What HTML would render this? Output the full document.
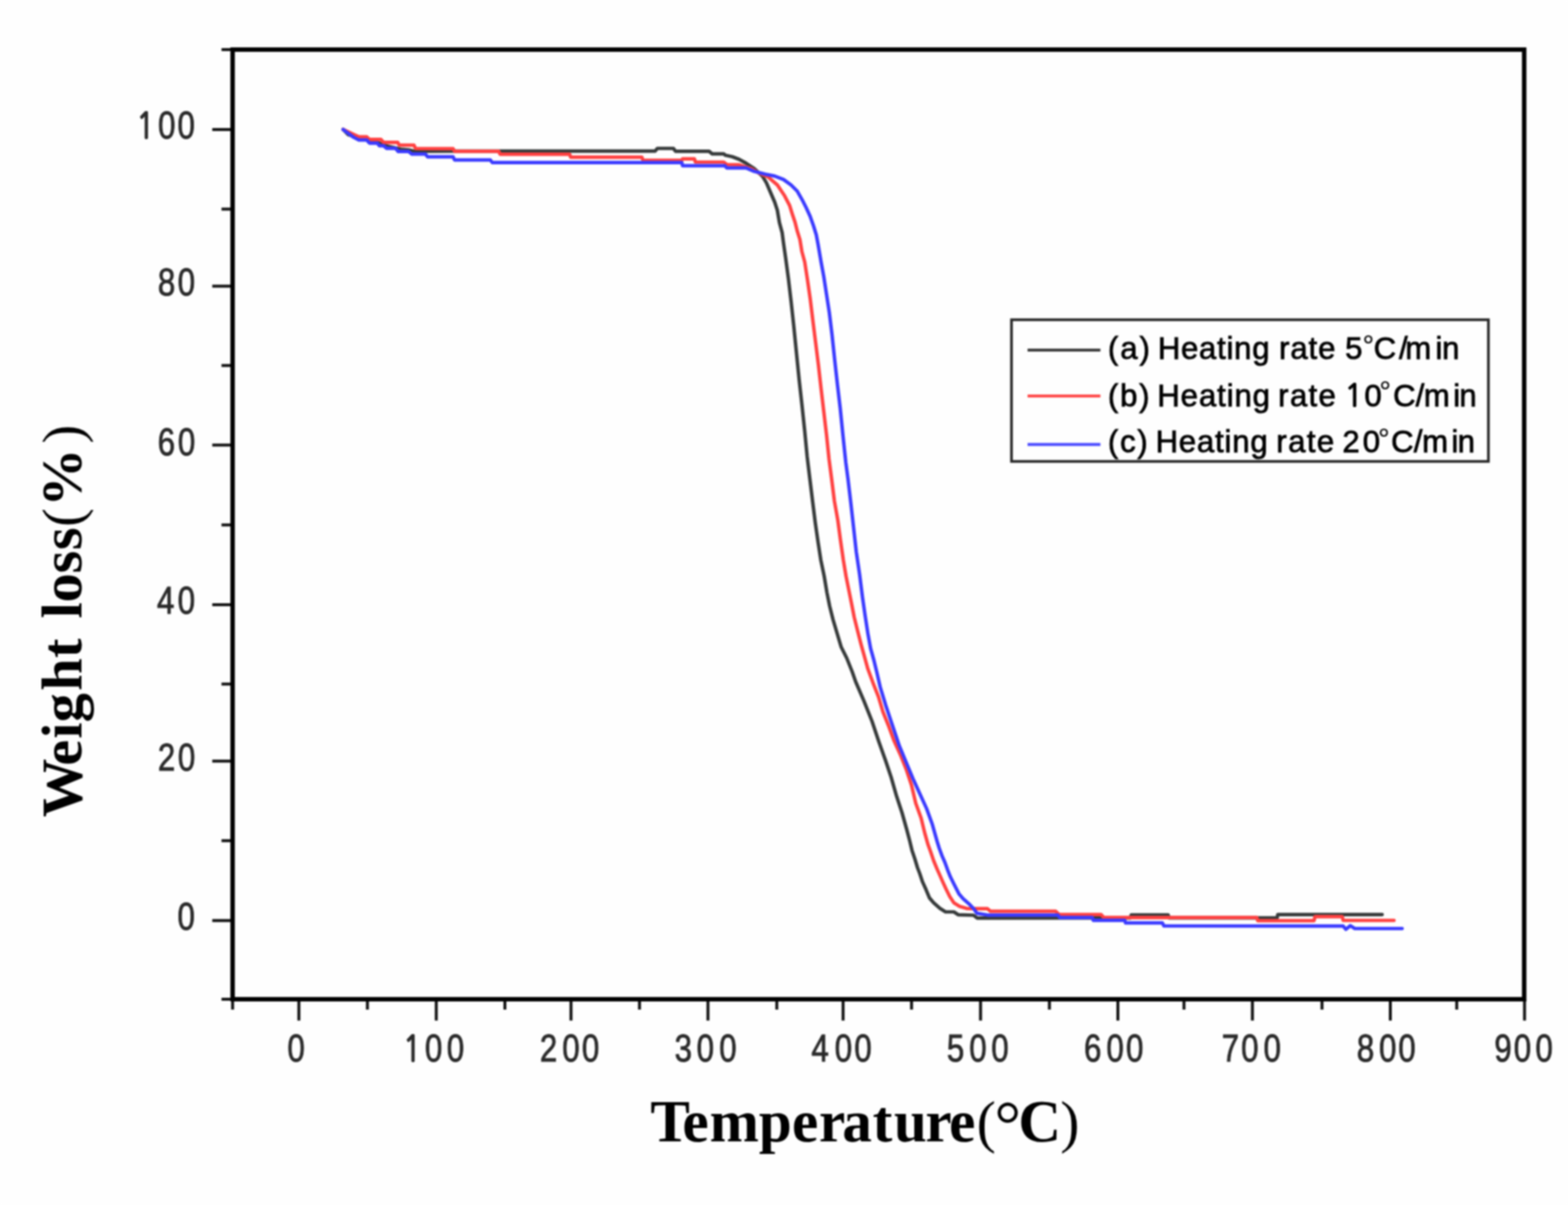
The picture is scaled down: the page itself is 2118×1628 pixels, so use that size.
<!DOCTYPE html>
<html><head><meta charset="utf-8"><title>TGA curves at different heating rates</title>
<style>
html,body{margin:0;padding:0;background:#fefefe;}
body{width:2118px;height:1628px;overflow:hidden;}
svg{display:block;filter:blur(1.3px);}
.tl text{font-family:"Liberation Sans",Arial,sans-serif;font-size:51.5px;fill:#2a2a2a;stroke:#2a2a2a;stroke-width:1.1px;}
.lg text{font-family:"Liberation Sans",Arial,sans-serif;font-size:42px;fill:#000000;stroke:#000000;stroke-width:1.0px;}
.ttl{font-family:"Liberation Serif","Times New Roman",serif;fill:#000000;}
text{font-kerning:none;}
.tl .one{font-family:NanumGothic,"Liberation Sans",sans-serif;font-size:48.0px;stroke-width:2.2px;}
.lg .deg{font-size:39px;stroke-width:0.2px;}
.lg .one{font-family:NanumGothic,"Liberation Sans",sans-serif;font-size:40.5px;stroke-width:1.8px;}
</style></head>
<body>
<svg width="2118" height="1628" viewBox="0 0 2118 1628">
<rect width="2118" height="1628" fill="#fefefe"/>
<g stroke="#121212" stroke-width="4.0" stroke-linecap="butt">
<line x1="299.2" y1="67" x2="314.2" y2="67"/>
<line x1="286.7" y1="175" x2="314.2" y2="175"/>
<line x1="299.2" y1="282.5" x2="314.2" y2="282.5"/>
<line x1="286.7" y1="386.6" x2="314.2" y2="386.6"/>
<line x1="299.2" y1="493.8" x2="314.2" y2="493.8"/>
<line x1="286.7" y1="601.3" x2="314.2" y2="601.3"/>
<line x1="299.2" y1="709.2" x2="314.2" y2="709.2"/>
<line x1="286.7" y1="817" x2="314.2" y2="817"/>
<line x1="299.2" y1="924.2" x2="314.2" y2="924.2"/>
<line x1="286.7" y1="1028.3" x2="314.2" y2="1028.3"/>
<line x1="299.2" y1="1135.8" x2="314.2" y2="1135.8"/>
<line x1="286.7" y1="1243.7" x2="314.2" y2="1243.7"/>
<line x1="299.2" y1="1350" x2="314.2" y2="1350"/>
<line x1="314.2" y1="1350" x2="314.2" y2="1364.0"/>
<line x1="403.7" y1="1350" x2="403.7" y2="1378.8"/>
<line x1="496.3" y1="1350" x2="496.3" y2="1364.0"/>
<line x1="589.3" y1="1350" x2="589.3" y2="1378.8"/>
<line x1="682" y1="1350" x2="682" y2="1364.0"/>
<line x1="771.3" y1="1350" x2="771.3" y2="1378.8"/>
<line x1="863.8" y1="1350" x2="863.8" y2="1364.0"/>
<line x1="956.3" y1="1350" x2="956.3" y2="1378.8"/>
<line x1="1049.3" y1="1350" x2="1049.3" y2="1364.0"/>
<line x1="1138.8" y1="1350" x2="1138.8" y2="1378.8"/>
<line x1="1231.3" y1="1350" x2="1231.3" y2="1364.0"/>
<line x1="1324.5" y1="1350" x2="1324.5" y2="1378.8"/>
<line x1="1417.5" y1="1350" x2="1417.5" y2="1364.0"/>
<line x1="1510" y1="1350" x2="1510" y2="1378.8"/>
<line x1="1599.3" y1="1350" x2="1599.3" y2="1364.0"/>
<line x1="1691.7" y1="1350" x2="1691.7" y2="1378.8"/>
<line x1="1785.7" y1="1350" x2="1785.7" y2="1364.0"/>
<line x1="1878" y1="1350" x2="1878" y2="1378.8"/>
<line x1="1967.7" y1="1350" x2="1967.7" y2="1364.0"/>
<line x1="2059.3" y1="1350" x2="2059.3" y2="1378.8"/>
</g>
<g fill="none" stroke-width="4.7" stroke-linejoin="round" stroke-linecap="round">
<polyline stroke="#363a3a" points="463.5,174.9 470.6,182.0 478.0,184.0 495.0,187.5 510.0,192.5 523.7,197.6 541.4,201.5 552.0,202.5 559.2,204.3 612.0,204.2 885.0,204.1 888.0,200.5 909.6,200.5 912.5,204.4 957.8,204.4 962.0,207.9 977.6,207.9 980.0,209.8 989.2,211.7 998.4,215.3 1007.6,220.4 1018.7,227.8 1029.8,237.9 1035.3,247.1 1040.8,260.0 1046.4,273.0 1050.0,284.0 1052.8,300.6 1056.5,314.4 1058.3,328.2 1061.2,348.4 1064.9,376.0 1068.6,407.4 1072.2,440.6 1075.9,477.4 1079.6,514.3 1083.3,547.4 1087.0,582.4 1090.3,617.0 1094.0,647.6 1097.6,677.1 1101.3,706.6 1105.0,732.4 1108.7,756.4 1113.3,778.5 1117.0,800.6 1120.7,819.0 1125.3,837.4 1130.8,855.9 1136.3,874.3 1143.7,889.0 1151.1,907.5 1155.8,921.0 1166.9,946.9 1177.9,974.5 1187.1,1002.1 1196.3,1027.9 1203.7,1050.0 1211.1,1075.8 1218.4,1098.0 1224.6,1120.0 1228.8,1136.0 1231.9,1148.9 1235.7,1160.2 1239.4,1172.5 1242.3,1180.0 1246.1,1191.4 1250.8,1201.8 1255.5,1213.1 1261.2,1219.7 1269.7,1227.3 1277.2,1232.0 1288.5,1232.0 1294.2,1235.8 1315.0,1236.5 1320.0,1240.3 1527.0,1240.2 1528.0,1236.2 1578.0,1236.2 1579.0,1240.2 1725.0,1240.2 1726.0,1235.6 1867.0,1235.6"/>
<polyline stroke="#ff4040" points="463.5,174.9 477.7,181.6 484.8,184.8 495.4,184.8 499.0,188.4 514.5,188.4 518.1,192.3 537.2,192.3 539.3,196.2 559.2,196.2 561.3,200.6 612.0,200.8 614.0,204.4 673.7,204.4 675.5,208.3 769.4,208.3 770.8,212.3 867.0,212.3 868.5,216.5 921.0,216.5 922.0,214.7 938.0,214.7 939.4,219.0 977.6,219.0 981.9,222.4 998.4,222.7 1015.0,228.0 1026.0,234.2 1037.1,238.8 1050.0,249.9 1059.3,263.7 1066.6,277.6 1070.3,289.5 1074.0,300.6 1076.8,311.7 1080.5,323.6 1083.2,340.0 1087.0,354.0 1090.7,377.9 1094.4,403.7 1098.0,433.2 1101.7,462.7 1105.4,492.2 1109.1,525.3 1112.8,556.6 1116.5,588.0 1119.8,620.0 1123.4,647.6 1127.1,677.1 1131.7,702.9 1135.4,730.6 1139.1,756.4 1142.8,778.5 1146.5,796.9 1150.2,815.3 1153.8,833.7 1158.4,852.2 1163.1,870.6 1167.7,887.2 1172.3,903.8 1178.3,920.0 1180.0,924.7 1186.6,941.3 1192.6,961.6 1200.0,980.0 1207.4,1000.3 1216.6,1020.6 1224.0,1039.0 1231.3,1061.1 1236.9,1085.0 1244.2,1105.3 1249.0,1125.0 1253.6,1141.3 1257.4,1151.7 1261.2,1163.0 1265.9,1174.4 1269.7,1182.9 1273.4,1191.4 1278.2,1201.8 1282.9,1211.2 1288.5,1219.7 1296.1,1224.4 1305.5,1227.3 1314.8,1227.7 1333.9,1227.7 1338.0,1231.2 1426.0,1231.2 1430.7,1235.7 1487.3,1235.7 1490.9,1239.6 1697.7,1239.6 1698.9,1243.8 1775.0,1243.8 1776.3,1238.3 1813.0,1238.3 1814.3,1243.5 1883.0,1243.5"/>
<polyline stroke="#3a3aff" points="463.5,174.9 467.0,177.7 477.7,185.5 484.8,189.1 495.4,189.1 499.0,193.3 509.6,193.3 512.4,196.9 518.0,196.9 522.3,200.4 534.4,200.4 537.9,204.7 552.0,204.7 556.3,208.2 574.7,208.2 577.6,211.9 612.0,211.9 614.0,216.1 662.3,216.1 665.0,219.7 921.0,219.7 922.0,223.9 979.0,223.9 981.8,226.9 1007.6,226.9 1018.7,231.5 1033.5,235.2 1046.4,237.9 1058.3,242.5 1068.5,249.9 1076.8,258.2 1083.2,269.3 1088.8,280.3 1094.3,292.3 1098.9,305.2 1102.6,317.2 1105.0,330.0 1109.1,354.0 1112.8,374.2 1116.5,398.2 1120.2,422.1 1123.8,451.6 1127.5,486.6 1131.2,519.8 1134.9,551.1 1138.6,588.0 1142.5,625.0 1145.5,647.6 1149.2,679.0 1152.9,712.1 1156.6,745.3 1161.2,776.6 1164.9,806.1 1168.6,831.9 1172.3,855.9 1176.0,876.1 1180.6,892.7 1184.2,907.5 1189.0,928.4 1196.3,952.4 1205.5,980.0 1214.8,1007.7 1224.0,1029.8 1233.2,1051.9 1242.4,1072.2 1251.6,1092.4 1259.0,1112.7 1265.9,1137.0 1268.7,1146.0 1272.5,1156.4 1276.3,1165.0 1280.0,1175.3 1283.8,1184.8 1288.5,1194.2 1295.2,1207.4 1300.8,1214.0 1308.4,1220.7 1315.0,1227.3 1319.7,1233.9 1333.9,1236.3 1428.8,1236.3 1431.6,1239.7 1475.5,1239.7 1476.7,1243.3 1519.2,1243.3 1520.4,1246.9 1570.0,1246.9 1572.3,1251.0 1814.3,1251.2 1818.0,1255.5 1824.0,1250.6 1830.0,1254.5 1894.0,1254.5"/>
</g>
<rect x="314.2" y="67" width="1744.6" height="1283" fill="none" stroke="#000000" stroke-width="6.0"/>
<g class="tl">
<text transform="scale(0.82,1)" y="1434.3"><tspan x="473.5">0</tspan></text>
<text transform="scale(0.82,1)" y="1434.3"><tspan class="one" x="664.2">1</tspan><tspan x="700.1">0</tspan><tspan x="735.9">0</tspan></text>
<text transform="scale(0.82,1)" y="1434.3"><tspan x="889.2">2</tspan><tspan x="926.2">0</tspan><tspan x="958.5">0</tspan></text>
<text transform="scale(0.82,1)" y="1434.3"><tspan x="1111.4">3</tspan><tspan x="1147.5">0</tspan><tspan x="1184.9">0</tspan></text>
<text transform="scale(0.82,1)" y="1434.3"><tspan x="1336.5">4</tspan><tspan x="1375.0">0</tspan><tspan x="1407.3">0</tspan></text>
<text transform="scale(0.82,1)" y="1434.3"><tspan x="1559.8">5</tspan><tspan x="1596.8">0</tspan><tspan x="1633.0">0</tspan></text>
<text transform="scale(0.82,1)" y="1434.3"><tspan x="1785.7">6</tspan><tspan x="1822.5">0</tspan><tspan x="1854.8">0</tspan></text>
<text transform="scale(0.82,1)" y="1434.3"><tspan x="2012.4">7</tspan><tspan x="2044.6">0</tspan><tspan x="2081.3">0</tspan></text>
<text transform="scale(0.82,1)" y="1434.3"><tspan x="2235.2">8</tspan><tspan x="2271.6">0</tspan><tspan x="2303.4">0</tspan></text>
<text transform="scale(0.82,1)" y="1434.3"><tspan x="2461.7">9</tspan><tspan x="2493.6">0</tspan><tspan x="2529.4">0</tspan></text>
<text transform="scale(0.82,1)" y="187.5"><tspan class="one" x="225.0">1</tspan><tspan x="260.4">0</tspan><tspan x="292.4">0</tspan></text>
<text transform="scale(0.82,1)" y="399.5"><tspan x="260.1">8</tspan><tspan x="292.6">0</tspan></text>
<text transform="scale(0.82,1)" y="615.0"><tspan x="259.9">6</tspan><tspan x="293.1">0</tspan></text>
<text transform="scale(0.82,1)" y="829.5"><tspan x="258.6">4</tspan><tspan x="292.8">0</tspan></text>
<text transform="scale(0.82,1)" y="1041.0"><tspan x="260.1">2</tspan><tspan x="293.1">0</tspan></text>
<text transform="scale(0.82,1)" y="1256.0"><tspan x="292.4">0</tspan></text>
</g>
<g class="lg">
<rect x="1366.3" y="432.0" width="644.2" height="191.4" fill="none" stroke="#262626" stroke-width="3.6"/>
<line x1="1388" y1="473" x2="1486.4" y2="473" stroke="#3c3c3c" stroke-width="4.0"/>
<line x1="1388" y1="535" x2="1486.4" y2="535" stroke="#ff4848" stroke-width="4.0"/>
<line x1="1388" y1="600.4" x2="1486.4" y2="600.4" stroke="#4848ff" stroke-width="4.0"/>
<text><tspan x="1496.6 1513.2 1539.2" y="485.0">(a) </tspan><tspan x="1563.9 1595.2 1619.6 1644.0 1656.8 1667.1 1691.5" y="485.0">Heating </tspan><tspan x="1727.8 1743.0 1767.6 1780.5" y="485.0">rate </tspan><tspan x="1817.1" y="485.0">5</tspan><tspan class="deg" x="1840.6" y="479.8">°</tspan><tspan x="1855.6" y="485.0">C</tspan><tspan x="1889.7" y="485.0">/</tspan><tspan x="1898.3" y="485.0">m</tspan><tspan x="1939.1" y="485.0">i</tspan><tspan x="1948.0" y="485.0">n</tspan></text>
<text><tspan x="1496.6 1513.0 1538.8" y="549.4">(b) </tspan><tspan x="1563.3 1594.8 1619.4 1644.0 1657.0 1667.5 1692.1" y="549.4">Heating </tspan><tspan x="1726.6 1742.4 1767.6 1781.1" y="549.4">rate </tspan><tspan class="one" x="1816.2" y="549.4">1</tspan><tspan x="1843.1" y="549.4">0</tspan><tspan class="deg" x="1863.3" y="542.4">°</tspan><tspan x="1881.7" y="549.4">C</tspan><tspan x="1912.2" y="549.4">/</tspan><tspan x="1923.2" y="549.4">m</tspan><tspan x="1963.0" y="549.4">i</tspan><tspan x="1971.3" y="549.4">n</tspan></text>
<text><tspan x="1496.6 1513.0 1536.3" y="611.4">(c) </tspan><tspan x="1560.9 1592.3 1616.8 1641.3 1654.1 1664.6 1689.0" y="611.4">Heating </tspan><tspan x="1724.1 1740.0 1765.2 1778.7" y="611.4">rate </tspan><tspan x="1813.3" y="611.4">2</tspan><tspan x="1840.7" y="611.4">0</tspan><tspan class="deg" x="1861.4" y="606.1999999999999">°</tspan><tspan x="1879.0" y="611.4">C</tspan><tspan x="1909.7" y="611.4">/</tspan><tspan x="1921.0" y="611.4">m</tspan><tspan x="1960.6" y="611.4">i</tspan><tspan x="1968.9" y="611.4">n</tspan></text>
</g>
<text class="ttl"><tspan x="878.4" y="1542.0" font-size="80" font-weight="bold">T</tspan><tspan x="921.7" y="1542.0" font-size="80" font-weight="bold">e</tspan><tspan x="958.5" y="1542.0" font-size="80" font-weight="bold">m</tspan><tspan x="1024.9" y="1542.0" font-size="80" font-weight="bold">p</tspan><tspan x="1069.7" y="1542.0" font-size="80" font-weight="bold">e</tspan><tspan x="1106.3" y="1542.0" font-size="80" font-weight="bold">r</tspan><tspan x="1137.8" y="1542.0" font-size="80" font-weight="bold">a</tspan><tspan x="1178.8" y="1542.0" font-size="80" font-weight="bold">t</tspan><tspan x="1207.4" y="1542.0" font-size="80" font-weight="bold">u</tspan><tspan x="1250.1" y="1542.0" font-size="80" font-weight="bold">r</tspan><tspan x="1282.1" y="1542.0" font-size="80" font-weight="bold">e</tspan><tspan x="1319.3" y="1542.0" font-size="77.5" font-weight="normal">(</tspan><tspan x="1343.2" y="1549.9" font-size="90" font-weight="normal">°</tspan><tspan x="1375.5" y="1542.0" font-size="80" font-weight="bold">C</tspan><tspan x="1432.2" y="1542.0" font-size="77.5" font-weight="normal">)</tspan></text>
<text class="ttl" font-size="79" transform="translate(109.7,1110.0) rotate(-90)"><tspan x="6.1" y="0" font-weight="bold">W</tspan><tspan x="75.4" y="0" font-weight="bold">e</tspan><tspan x="112.1" y="0" font-weight="bold">i</tspan><tspan x="133.9" y="0" font-weight="bold">g</tspan><tspan x="176.7" y="0" font-weight="bold">h</tspan><tspan x="220.9" y="0" font-weight="bold">t</tspan><tspan> </tspan><tspan x="274.6" y="0" font-weight="bold">l</tspan><tspan x="295.9" y="0" font-weight="bold">o</tspan><tspan x="335.3" y="0" font-weight="bold">s</tspan><tspan x="366.8" y="0" font-weight="bold">s</tspan><tspan x="398.3" y="0" font-weight="normal" font-size="76">(</tspan><tspan x="425.2" y="0" font-weight="bold">%</tspan><tspan x="510.8" y="0" font-weight="normal" font-size="76">)</tspan></text>
</svg>
</body></html>
